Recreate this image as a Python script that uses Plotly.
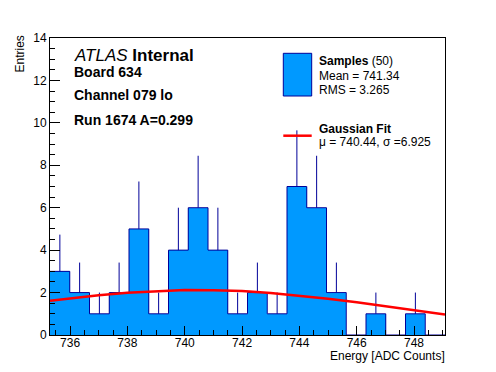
import numpy as np
import plotly.graph_objects as go

# ---- data ----
x_min = 735.30
x_max = 749.08
bin_counts = [3, 2, 1, 2, 5, 1, 4, 6, 4, 1, 2, 1, 7, 6, 2, 0, 1, 0, 1, 0]
fit_x = [735.3, 736, 737, 738, 739, 740, 741, 742, 743, 744, 745, 746, 747, 748, 749.08]
fit_y = [1.61, 1.73, 1.87, 1.99, 2.07, 2.12, 2.11, 2.07, 1.98, 1.86, 1.71, 1.54, 1.35, 1.17, 0.97]
x_tick_vals = [736, 738, 740, 742, 744, 746, 748]
y_tick_vals = [0, 2, 4, 6, 8, 10, 12, 14]
info_lines = ["<i>ATLAS</i> <b>Internal</b>", "<b>Board 634</b>", "<b>Channel 079 lo</b>", "<b>Run 1674 A=0.299</b>"]
legend_samples = ["<b>Samples</b> (50)", "Mean = 741.34", "RMS = 3.265"]
legend_fit = ["<b>Gaussian Fit</b>", "\u03bc = 740.44, \u03c3 =6.925"]

FILL = "#0099ff"
EDGE = "#000099"
FONT = "Liberation Sans, Arial, Helvetica, sans-serif"

n_bins = len(bin_counts)
edges = np.linspace(x_min, x_max, n_bins + 1)
centers = 0.5 * (edges[:-1] + edges[1:])
bw = edges[1] - edges[0]
counts = np.array(bin_counts, dtype=float)
errs = np.sqrt(counts)

fig = go.Figure()
fig.add_trace(go.Bar(x=centers, y=counts, width=bw, marker=dict(color=FILL, line=dict(width=0)),
                     showlegend=False, hoverinfo="skip"))
fig.add_trace(go.Scatter(x=list(edges), y=list(counts) + [counts[-1]], mode="lines",
                         line=dict(color=EDGE, width=1, shape="hv"), showlegend=False, hoverinfo="skip"))
fig.add_trace(go.Scatter(x=centers, y=counts, mode="markers",
                         marker=dict(size=1, color="rgba(0,0,0,0)"),
                         error_y=dict(type="data", array=errs, arrayminus=[0] * n_bins, symmetric=False,
                                      color=EDGE, thickness=1, width=0),
                         showlegend=False, hoverinfo="skip"))
fig.add_trace(go.Scatter(x=fit_x, y=fit_y, mode="lines", line=dict(color="#ff0000", width=2.5),
                         showlegend=False, hoverinfo="skip"))

W, H = 496, 372
L, R, T, B = 50, 51, 38, 37
pw, ph = W - L - R, H - T - B

def px(x):
    return (x - L) / pw

def py(y):
    return (H - B - y) / ph

ann = []
info_y = [55.5, 72, 95, 119.5]
info_size = [17, 14, 14, 14]
for txt, yy, sz in zip(info_lines, info_y, info_size):
    ann.append(dict(text=txt, x=px(73), y=py(yy), xanchor="left", yanchor="middle",
                    font=dict(size=sz, color="black", family=FONT)))
for txt, yy in zip(legend_samples, [61, 76, 90]):
    ann.append(dict(text=txt, x=px(317.7), y=py(yy), xanchor="left", yanchor="middle",
                    font=dict(size=12, color="black", family=FONT)))
for txt, yy in zip(legend_fit, [128.5, 142]):
    ann.append(dict(text=txt, x=px(317.7), y=py(yy), xanchor="left", yanchor="middle",
                    font=dict(size=12, color="black", family=FONT)))
ann.append(dict(text="Energy [ADC Counts]", x=px(446), y=py(356), xanchor="right", yanchor="middle",
                font=dict(size=12, color="black", family=FONT)))
ann.append(dict(text="Entries", x=px(20), y=py(35), xanchor="center", yanchor="top", textangle=-90,
                font=dict(size=12, color="black", family=FONT)))
for a in ann:
    a.update(xref="paper", yref="paper", showarrow=False, borderpad=0)

shapes = [
    dict(type="rect", xref="paper", yref="paper", x0=px(283.3), x1=px(311.7), y0=py(96), y1=py(53.3),
         fillcolor=FILL, line=dict(color=EDGE, width=1)),
    dict(type="line", xref="paper", yref="paper", x0=px(283.3), x1=px(311.7), y0=py(135.7), y1=py(135.7),
         line=dict(color="#ff0000", width=2.5)),
]

fig.update_layout(
    width=W, height=H, margin=dict(l=L, r=R, t=T, b=B),
    paper_bgcolor="white", plot_bgcolor="white",
    bargap=0, font=dict(family=FONT, size=12, color="black"),
    annotations=ann, shapes=shapes, showlegend=False,
    xaxis=dict(range=[x_min, x_max], tickmode="array", tickvals=x_tick_vals, ticks="inside", ticklen=9,
               tickwidth=1, tickcolor="black", showline=True, linecolor="black", linewidth=1, mirror=True,
               showgrid=False, zeroline=False, tickfont=dict(size=12), automargin=False,
               ticklabelstandoff=-3,
               minor=dict(tickmode="linear", tick0=736, dtick=0.5, ticks="inside", ticklen=5,
                          tickcolor="black", tickwidth=1, showgrid=False)),
    yaxis=dict(range=[0, 14], tickmode="array", tickvals=y_tick_vals, ticks="inside", ticklen=10,
               tickwidth=1, tickcolor="black", showline=True, linecolor="black", linewidth=1, mirror=True,
               showgrid=False, zeroline=False, tickfont=dict(size=12), automargin=False,
               minor=dict(tickmode="linear", tick0=0, dtick=0.5, ticks="inside", ticklen=5,
                          tickcolor="black", tickwidth=1, showgrid=False)),
)

fig.write_html("out.html", config={"displayModeBar": False},
               post_script="document.body.style.margin='0';document.body.style.padding='0';")
